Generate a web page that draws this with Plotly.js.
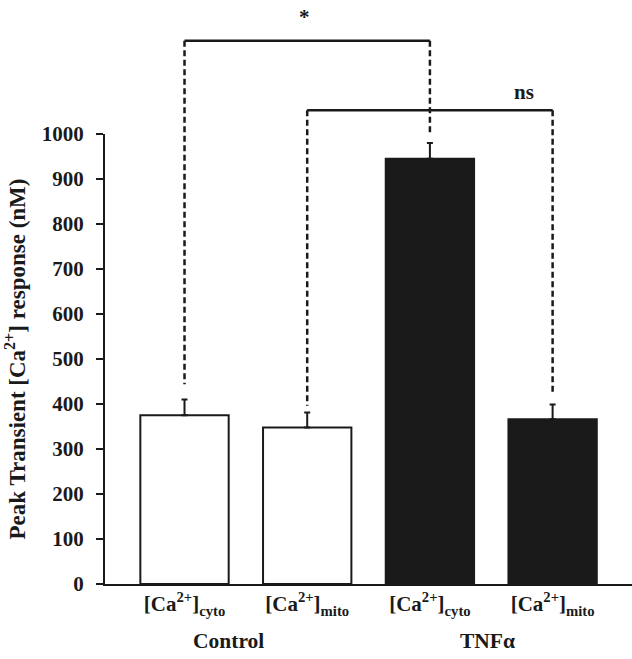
<!DOCTYPE html>
<html>
<head>
<meta charset="utf-8">
<script src="https://cdn.plot.ly/plotly-3.0.1.min.js"></script>
<style>html,body{margin:0;padding:0;background:#fff;}#chart{width:632px;height:659px;}</style>
</head>
<body>
<div id="chart"></div>
<script>
// ---- data ----
const tickLabels = ['[Ca<sup>2+</sup>]<sub>cyto</sub>', '[Ca<sup>2+</sup>]<sub>mito</sub>', '[Ca<sup>2+</sup>]<sub>cyto</sub>', '[Ca<sup>2+</sup>]<sub>mito</sub>'];
const groupNames = ['Control', 'TNFα'];
const groupLabelX = [0.36, 2.47];
const values = [375, 348, 945, 366];
const errors = [35, 33, 35, 33];
const fillColors = ['#ffffff', '#ffffff', '#1a1a1a', '#1a1a1a'];
const yTicks = [0, 100, 200, 300, 400, 500, 600, 700, 800, 900, 1000];
// significance comparisons: bar indices, bracket level, drop-line ends, label
const compA = [0, 1];
const compB = [2, 3];
const compLevel = [1207, 1053];
const compEndA = [444, 396];
const compEndB = [1002, 427];
const compLabel = ['*', 'ns'];
const compLabelX = [0.98, 2.77];
const compLabelY = [1292, 1125];

const xPos = values.map((_, i) => i);
const Y_MAX = 1000;

const trace = {
  type: 'bar',
  x: xPos,
  y: values,
  width: 0.72,
  marker: {color: fillColors, line: {color: '#1a1a1a', width: 2}},
  error_y: {type: 'data', symmetric: false, array: errors, arrayminus: errors.map(() => 0),
            color: '#1a1a1a', thickness: 2, width: 3},
  hoverinfo: 'none'
};

const shapes = [];
const annotations = [];
const lineStyle = {color: '#1a1a1a', width: 2.5};
const dashStyle = {color: '#1a1a1a', width: 2.5, dash: '6px,3.5px'};
for (let k = 0; k < compA.length; k++) {
  const a = compA[k], b = compB[k];
  shapes.push({type: 'line', xref: 'x', yref: 'paper', x0: a, x1: b, y0: compLevel[k] / Y_MAX, y1: compLevel[k] / Y_MAX, line: lineStyle});
  shapes.push({type: 'line', xref: 'x', yref: 'paper', x0: a, x1: a, y0: compLevel[k] / Y_MAX, y1: compEndA[k] / Y_MAX, line: dashStyle});
  shapes.push({type: 'line', xref: 'x', yref: 'paper', x0: b, x1: b, y0: compLevel[k] / Y_MAX, y1: compEndB[k] / Y_MAX, line: dashStyle});
  annotations.push({xref: 'x', yref: 'paper', x: compLabelX[k], y: compLabelY[k] / Y_MAX, text: compLabel[k], showarrow: false,
    font: {family: 'Liberation Serif', size: 21, color: '#1a1a1a', weight: 'bold'}});
}
// group labels
groupNames.forEach((g, i) => {
  annotations.push({xref: 'x', yref: 'paper', x: groupLabelX[i], y: 0, yanchor: 'middle', yshift: -57, text: g, showarrow: false,
    font: {family: 'Liberation Serif', size: 21.5, color: '#1a1a1a', weight: 'bold'}});
});

const layout = {
  width: 632, height: 659,
  margin: {l: 105, r: 0, t: 134, b: 75},
  paper_bgcolor: '#ffffff', plot_bgcolor: '#ffffff',
  showlegend: false,
  font: {family: 'Liberation Serif', color: '#1a1a1a'},
  xaxis: {
    range: [-0.648, 3.647], tickvals: xPos, ticktext: tickLabels,
    showgrid: false, zeroline: false, showline: true, linecolor: '#1a1a1a', linewidth: 2,
    ticks: '', tickfont: {family: 'Liberation Serif', size: 21, color: '#1a1a1a', weight: 'bold'},
    fixedrange: true
  },
  yaxis: {
    range: [0, Y_MAX], tickvals: yTicks, showgrid: false, zeroline: false,
    showline: true, linecolor: '#1a1a1a', linewidth: 2,
    ticks: 'outside', ticklen: 7, tickwidth: 2, tickcolor: '#1a1a1a',
    ticklabelstandoff: 8,
    tickfont: {family: 'Liberation Serif', size: 21, color: '#1a1a1a', weight: 'bold'},
    title: {text: 'Peak Transient [Ca<sup>2+</sup>] response (nM)', standoff: 10,
            font: {family: 'Liberation Serif', size: 23, color: '#1a1a1a', weight: 'bold'}},
    fixedrange: true
  },
  shapes: shapes,
  annotations: annotations
};

Plotly.newPlot('chart', [trace], layout, {displayModeBar: false, staticPlot: true});
</script>
</body>
</html>
